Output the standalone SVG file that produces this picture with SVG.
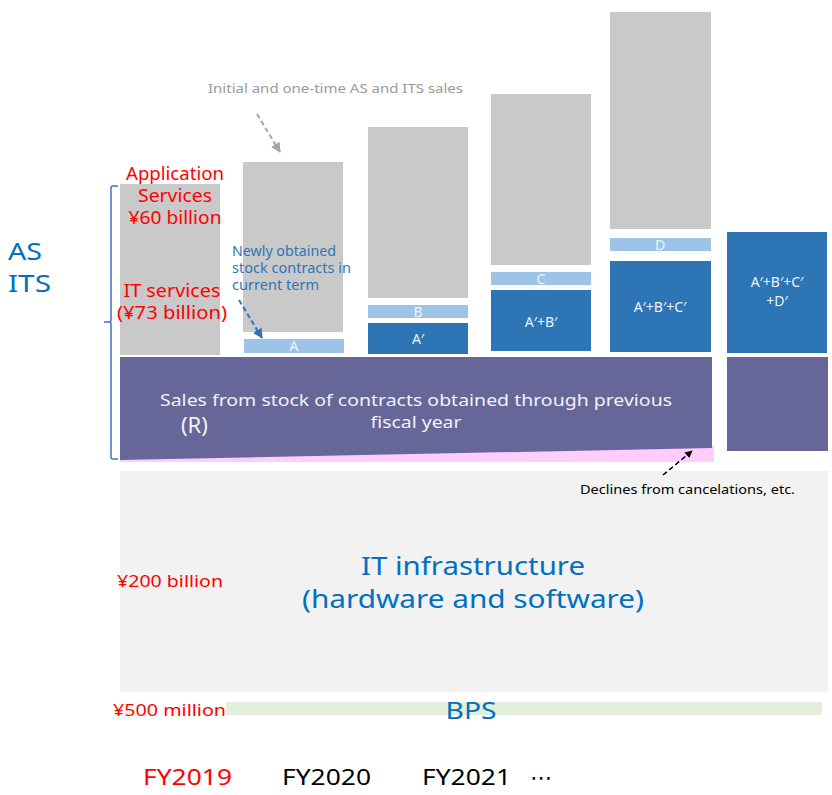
<svg xmlns="http://www.w3.org/2000/svg" width="832" height="795" viewBox="0 0 832 795">
  <style>
    text { font-family: "Noto Sans", "DejaVu Sans", sans-serif; }
    .gray { fill: #c9c9c9; }
    .new { fill: #9dc3e6; }
    .stock { fill: #2e75b6; }
    .prev { fill: #666699; }
    .lbl { fill: #eef3fa; font-size: 14px; text-anchor: middle; }
    .red { fill: #ff0000; }
    .blue { fill: #0070c0; }
    .mid { text-anchor: middle; }
  </style>
  <defs>
    <marker id="ahGray" viewBox="0 0 10 10" refX="9" refY="5" markerWidth="5" markerHeight="5" orient="auto" markerUnits="strokeWidth">
      <path d="M0,0 L10,5 L0,10 z" fill="#a6a6a6"/>
    </marker>
    <marker id="ahBlue" viewBox="0 0 10 10" refX="9" refY="5" markerWidth="5" markerHeight="5" orient="auto" markerUnits="strokeWidth">
      <path d="M0,0 L10,5 L0,10 z" fill="#2e75b6"/>
    </marker>
    <marker id="ahBlack" viewBox="0 0 10 10" refX="9" refY="5" markerWidth="5" markerHeight="5" orient="auto" markerUnits="strokeWidth">
      <path d="M0,0 L10,5 L0,10 z" fill="#000"/>
    </marker>
  </defs>

  <!-- IT infrastructure base -->
  <g id="it-infra">
    <rect x="120" y="471" width="708" height="221" fill="#f2f2f2"/>
    <text class="blue mid" x="473" y="575" font-size="26" textLength="224" lengthAdjust="spacingAndGlyphs">IT infrastructure</text>
    <text class="blue mid" x="473" y="608" font-size="26" textLength="342" lengthAdjust="spacingAndGlyphs">(hardware and software)</text>
    <text class="red" x="117" y="587" font-size="16" textLength="106" lengthAdjust="spacingAndGlyphs">¥200 billion</text>
  </g>

  <!-- BPS strip -->
  <g id="bps">
    <rect x="226" y="702" width="596" height="13" fill="#e2efda"/>
    <text class="red" x="113" y="716" font-size="16" textLength="113" lengthAdjust="spacingAndGlyphs">¥500 million</text>
    <text class="blue mid" x="471" y="719" font-size="24" textLength="51" lengthAdjust="spacingAndGlyphs">BPS</text>
  </g>

  <!-- Stock of contracts from previous fiscal year -->
  <g id="prev-stock">
    <rect x="120" y="446" width="594" height="16" fill="#ffccff"/>
    <polygon class="prev" points="120,357 712,357 712,448 120,460"/>
    <text class="mid" x="416" y="406" font-size="17" fill="#f2f2f2" textLength="512" lengthAdjust="spacingAndGlyphs">Sales from stock of contracts obtained through previous</text>
    <text class="mid" x="416" y="428" font-size="17" fill="#f2f2f2" textLength="91" lengthAdjust="spacingAndGlyphs">fiscal year</text>
    <text x="181" y="433" font-size="22" fill="#f2f2f2">(R)</text>
  </g>
  <g id="prev-stock-next">
    <rect class="prev" x="727" y="357" width="101" height="94"/>
  </g>

  <!-- FY2019 -->
  <g id="col-fy2019">
    <rect class="gray" x="120" y="184" width="100" height="171"/>
    <text class="red mid" x="175" y="180" font-size="18" textLength="98" lengthAdjust="spacingAndGlyphs">Application</text>
    <text class="red mid" x="175" y="202" font-size="18" textLength="74" lengthAdjust="spacingAndGlyphs">Services</text>
    <text class="red mid" x="175" y="224" font-size="18" textLength="93" lengthAdjust="spacingAndGlyphs">¥60 billion</text>
    <text class="red mid" x="172" y="297" font-size="18" textLength="97" lengthAdjust="spacingAndGlyphs">IT services</text>
    <text class="red mid" x="172" y="319" font-size="18" textLength="110" lengthAdjust="spacingAndGlyphs">(¥73 billion)</text>
  </g>

  <!-- FY2020 -->
  <g id="col-fy2020">
    <rect class="gray" x="243" y="162" width="100" height="170"/>
    <rect class="new" x="244" y="339" width="100" height="14"/>
    <text class="lbl" x="294" y="351" font-size="13">A</text>
  </g>

  <!-- FY2021 -->
  <g id="col-fy2021">
    <rect class="gray" x="368" y="127" width="100" height="171"/>
    <rect class="new" x="368" y="305" width="100" height="13"/>
    <text class="lbl" x="418" y="317" font-size="13">B</text>
    <rect class="stock" x="368" y="323" width="100" height="31"/>
    <text class="lbl" x="418" y="344">A′</text>
  </g>

  <!-- FY2022 -->
  <g id="col-fy2022">
    <rect class="gray" x="491" y="94" width="100" height="171"/>
    <rect class="new" x="491" y="272" width="100" height="13"/>
    <text class="lbl" x="541" y="284" font-size="13">C</text>
    <rect class="stock" x="491" y="290" width="100" height="61"/>
    <text class="lbl" x="541" y="327">A′+B′</text>
  </g>

  <!-- FY2023 -->
  <g id="col-fy2023">
    <rect class="gray" x="610" y="12" width="101" height="217"/>
    <rect class="new" x="610" y="238" width="101" height="13"/>
    <text class="lbl" x="660" y="250" font-size="13">D</text>
    <rect class="stock" x="610" y="261" width="101" height="91"/>
    <text class="lbl" x="660" y="312">A′+B′+C′</text>
  </g>

  <!-- FY2024 -->
  <g id="col-fy2024">
    <rect class="stock" x="727" y="232" width="100" height="121"/>
    <text class="lbl" x="777" y="287">A′+B′+C′</text>
    <text class="lbl" x="777" y="306">+D′</text>
  </g>

  <!-- AS / ITS bracket -->
  <g id="as-its">
    <path d="M118,186 H113 Q111,186 111,188 V320 Q111,322 109,322 H104 M109,322 Q111,322 111,324 V457 Q111,459 113,459 H118" fill="none" stroke="#4472c4" stroke-width="1.5"/>
    <text class="blue" x="8" y="260" font-size="24" textLength="34" lengthAdjust="spacingAndGlyphs">AS</text>
    <text class="blue" x="8" y="292" font-size="24" textLength="43" lengthAdjust="spacingAndGlyphs">ITS</text>
  </g>

  <!-- Callout notes -->
  <g id="note-initial">
    <text x="208" y="93" font-size="13" fill="#9a9a9a" textLength="255" lengthAdjust="spacingAndGlyphs">Initial and one-time AS and ITS sales</text>
  </g>
  <g id="note-new">
    <text x="232" y="256" font-size="13.5" fill="#2e75b6" textLength="104" lengthAdjust="spacingAndGlyphs">Newly obtained</text>
    <text x="232" y="273" font-size="13.5" fill="#2e75b6" textLength="119" lengthAdjust="spacingAndGlyphs">stock contracts in</text>
    <text x="232" y="290" font-size="13.5" fill="#2e75b6" textLength="87" lengthAdjust="spacingAndGlyphs">current term</text>
  </g>
  <g id="note-decline">
    <text x="580" y="494" font-size="13" fill="#000" textLength="215" lengthAdjust="spacingAndGlyphs">Declines from cancelations, etc.</text>
  </g>

  <!-- Connectors -->
  <g id="connectors" fill="none" stroke-width="2" stroke-dasharray="5,3">
    <line x1="257" y1="114" x2="280" y2="152" stroke="#a6a6a6" marker-end="url(#ahGray)"/>
    <line x1="239" y1="300" x2="262" y2="338" stroke="#2e75b6" marker-end="url(#ahBlue)"/>
    <line x1="663" y1="475" x2="692" y2="451" stroke="#000" stroke-width="1.5" marker-end="url(#ahBlack)"/>
  </g>

  <!-- Fiscal year axis -->
  <g id="years" font-size="22">
    <text class="red" x="143" y="785" textLength="89" lengthAdjust="spacingAndGlyphs">FY2019</text>
    <text x="282" y="785" fill="#000" textLength="89" lengthAdjust="spacingAndGlyphs">FY2020</text>
    <text x="422" y="785" fill="#000" textLength="89" lengthAdjust="spacingAndGlyphs">FY2021</text>
    <text x="530" y="785" fill="#000">⋯</text>
  </g>
</svg>
